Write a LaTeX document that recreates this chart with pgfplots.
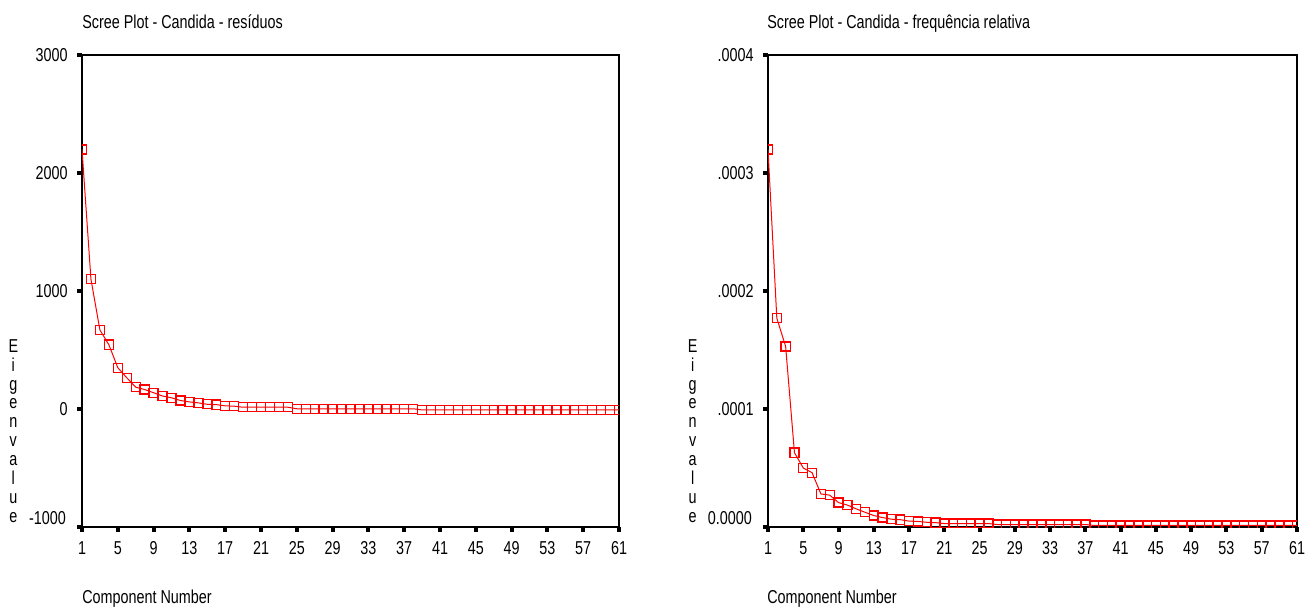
\documentclass[border=0pt]{standalone}
\usepackage{fontspec}
\setmainfont{Liberation Sans}[FakeStretch=0.77]
\usepackage{pgfplots}
\pgfplotsset{compat=1.18}
\usepackage{pgfplotstable}

\pgfplotstableread{
k v
1 2200
2 1100
3 670
4 545
5 350
6 265
7 185
8 165
9 138
10 110
11 95
12 72
13 60
14 52
15 40
16 37
17 27
18 24
19 15
20 15
21 15
22 15
23 15
24 15
25 2
26 2
27 2
28 2
29 2
30 2
31 2
32 2
33 2
34 2
35 2
36 2
37 2
38 2
39 -8
40 -8
41 -8
42 -8
43 -8
44 -8
45 -8
46 -8
47 -8
48 -8
49 -8
50 -8
51 -8
52 -8
53 -8
54 -8
55 -8
56 -8
57 -8
58 -8
59 -8
60 -8
61 -8
}\resid

\pgfplotstableread{
k v
1 3.20e-4
2 1.77e-4
3 1.53e-4
4 0.63e-4
5 0.50e-4
6 0.46e-4
7 0.28e-4
8 0.27e-4
9 0.207e-4
10 0.186e-4
11 0.154e-4
12 0.125e-4
13 0.097e-4
14 0.080e-4
15 0.066e-4
16 0.062e-4
17 0.050e-4
18 0.047e-4
19 0.040e-4
20 0.037e-4
21 0.029e-4
22 0.029e-4
23 0.029e-4
24 0.029e-4
25 0.029e-4
26 0.029e-4
27 0.021e-4
28 0.021e-4
29 0.021e-4
30 0.021e-4
31 0.021e-4
32 0.021e-4
33 0.021e-4
34 0.021e-4
35 0.021e-4
36 0.021e-4
37 0.021e-4
38 0.013e-4
39 0.013e-4
40 0.013e-4
41 0.013e-4
42 0.013e-4
43 0.013e-4
44 0.013e-4
45 0.013e-4
46 0.013e-4
47 0.013e-4
48 0.013e-4
49 0.013e-4
50 0.013e-4
51 0.013e-4
52 0.013e-4
53 0.013e-4
54 0.013e-4
55 0.013e-4
56 0.013e-4
57 0.013e-4
58 0.013e-4
59 0.013e-4
60 0.013e-4
61 0.013e-4
}\freq

\pgfplotsset{
  screestyle/.style={
    scale only axis,
    height=354pt,
    xmin=1, xmax=61,
    xtick={1,5,...,61},
    axis line style={line width=1.1pt, black},
    tick align=outside,
    major tick length=3.6pt,
    every tick/.append style={line width=3pt, black},
    every extra y tick/.append style={line width=3pt, black},
    xtick pos=bottom, ytick pos=left,
    minor tick num=0,
    clip marker paths=true,
    /pgf/number format/assume math mode=true,
    ticklabel style={font=\fontsize{14}{16}\selectfont},
    xticklabel style={inner sep=0pt, yshift=-7pt},
    yticklabel style={inner sep=0pt, xshift=-7pt},
    extra y tick style={yticklabel style={yshift=7pt}},
  },
  screeline/.style={red, line width=0.75pt, mark=square, mark size=3.4pt,
    mark options={red, line width=1pt, solid}},
}

\begin{document}
\begin{tikzpicture}
\useasboundingbox (0,0) rectangle (978.75pt,455.25pt);

\begin{axis}[screestyle, at={(61.5pt,60pt)}, anchor=south west,
  width=402.75pt,
  ymin=-1000, ymax=3000,
  ytick={0,1000,2000,3000},
  yticklabels={0,1000,2000,3000},
  extra y ticks={-1000}, extra y tick labels={-1000}]
\addplot[screeline] table[x=k,y=v]{\resid};
\end{axis}

\begin{axis}[screestyle, at={(576pt,60pt)}, anchor=south west,
  width=396.75pt,
  ymin=0, ymax=0.0004,
  scaled y ticks=false,
  ytick={0.0001,0.0002,0.0003,0.0004},
  yticklabels={.0001,.0002,.0003,.0004},
  extra y ticks={0}, extra y tick labels={0.0000}]
\addplot[screeline] table[x=k,y=v]{\freq};
\end{axis}

\begin{scope}[every node/.style={inner sep=0pt, font=\fontsize{14}{16}\selectfont}]
\node[anchor=base west] at (61.5pt,434pt) {Scree Plot - Candida - resíduos};
\node[anchor=base west] at (575.25pt,434pt) {Scree Plot - Candida - frequência relativa};
\node[anchor=base west] at (61.5pt,3pt) {Component Number};
\node[anchor=base west] at (575.25pt,3pt) {Component Number};
\node[anchor=south, align=center, font=\fontsize{14}{14.2}\selectfont] at (10pt,63pt) {E\\i\\g\\e\\n\\v\\a\\l\\u\\e};
\node[anchor=south, align=center, font=\fontsize{14}{14.2}\selectfont] at (519.5pt,63pt) {E\\i\\g\\e\\n\\v\\a\\l\\u\\e};
\end{scope}
\end{tikzpicture}
\end{document}
